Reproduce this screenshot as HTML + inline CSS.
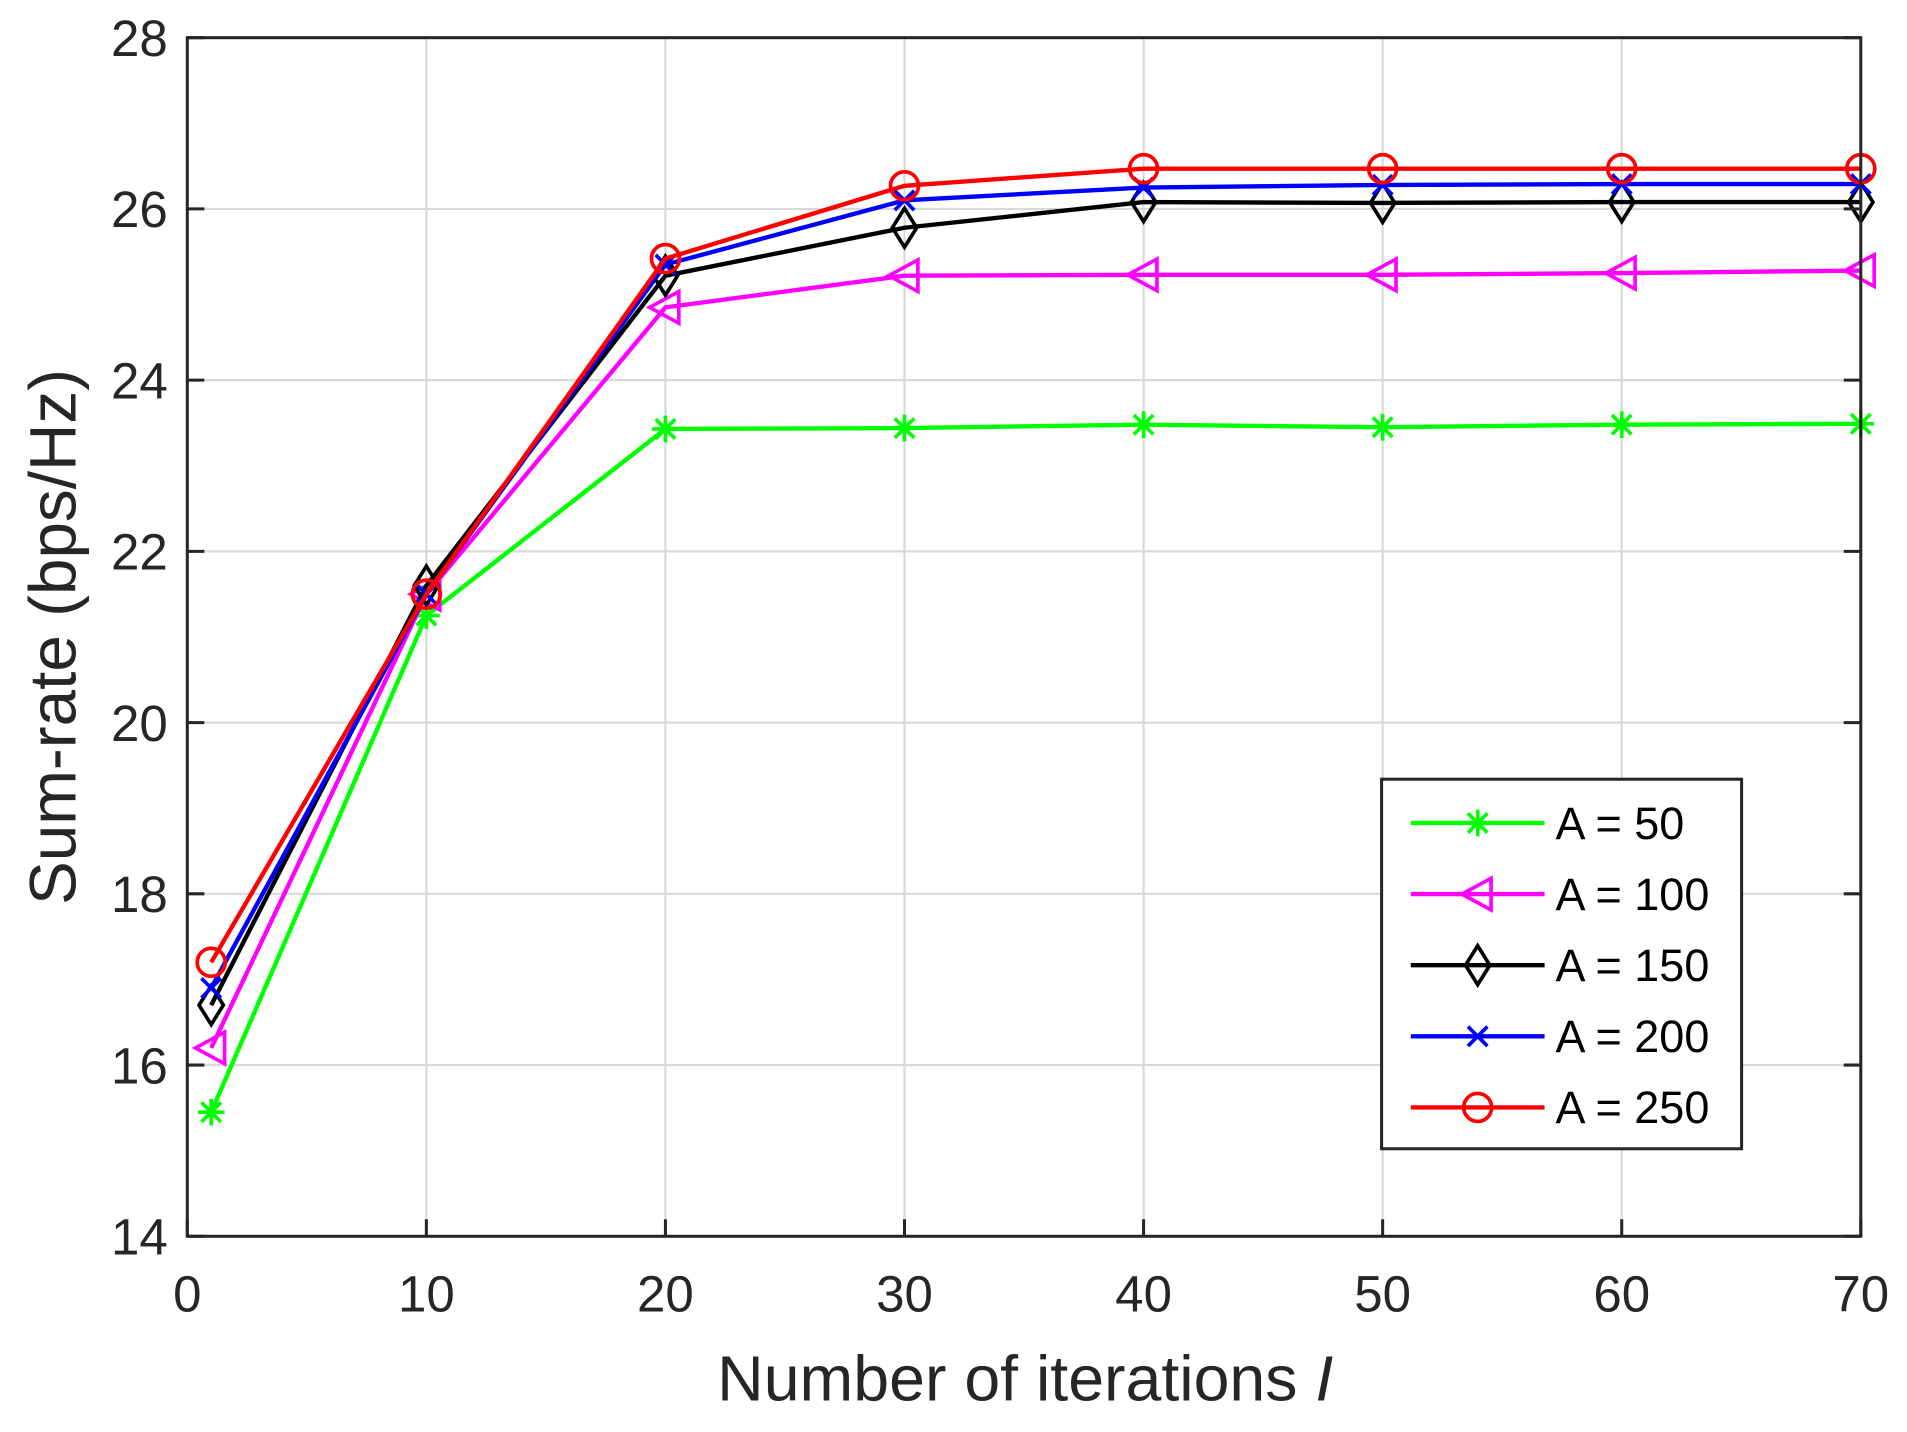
<!DOCTYPE html>
<html><head><meta charset="utf-8"><style>
html,body{margin:0;padding:0;background:#fff;}
svg{display:block;font-family:"Liberation Sans",Arial,sans-serif;}
</style></head><body>
<svg id="chart" width="1907" height="1432" viewBox="0 0 1568 1178" preserveAspectRatio="none" xmlns="http://www.w3.org/2000/svg">
<rect x="0" y="0" width="1568" height="1178" fill="#fff"/>
<g id="grid"></g>
<g id="series"></g>
<rect x="154" y="31" width="1376" height="986" fill="none" stroke="#262626" stroke-width="2.5"/>
<g id="ticks"></g>
<text x="843" y="1152" font-size="53" text-anchor="middle" fill="#262626">Number of iterations <tspan font-style="italic">I</tspan></text>
<text transform="translate(62,524) rotate(-90)" font-size="54" text-anchor="middle" fill="#262626">Sum-rate (bps/Hz)</text>
<g id="legend"></g>
</svg>
<script>
const xValues = [1, 10, 20, 30, 40, 50, 60, 70];
const seriesA50 = [15.45, 21.25, 23.43, 23.44, 23.48, 23.45, 23.48, 23.49];
const seriesA100 = [16.2, 21.5, 24.85, 25.22, 25.23, 25.23, 25.25, 25.28];
const seriesA150 = [16.7, 21.6, 25.22, 25.78, 26.08, 26.07, 26.08, 26.08];
const seriesA200 = [16.9, 21.5, 25.35, 26.1, 26.25, 26.28, 26.29, 26.29];
const seriesA250 = [17.2, 21.5, 25.42, 26.27, 26.47, 26.47, 26.47, 26.47];
const seriesLabels = ["A = 50", "A = 100", "A = 150", "A = 200", "A = 250"];
const xTicks = [0, 10, 20, 30, 40, 50, 60, 70];
const yTicks = [14, 16, 18, 20, 22, 24, 26, 28];

const NS = "http://www.w3.org/2000/svg";
const L = 154, R = 1530, T = 31, B = 1017;
const xMin = 0, xMax = 70, yMin = 14, yMax = 28;
function sx(v){ return L + (v - xMin) / (xMax - xMin) * (R - L); }
function sy(v){ return B - (v - yMin) / (yMax - yMin) * (B - T); }
function mk(tag, attrs, parent){ const e = document.createElementNS(NS, tag); for (const k in attrs) e.setAttribute(k, attrs[k]); parent.appendChild(e); return e; }

const grid = document.getElementById('grid');
const ticks = document.getElementById('ticks');
xTicks.forEach(t => {
  const x = sx(t);
  if (t !== xMin && t !== xMax) {
    const g = mk('line', {x1:x, x2:x, y1:T, y2:B, stroke:'#d9d9d9', 'stroke-width':1.8}, grid);
    
    
  }
  const tk = mk('line', {x1:x, x2:x, y1:B, y2:B-14, stroke:'#262626', 'stroke-width':2.5}, ticks);
  
  
  const lb = mk('text', {x:x, y:B+62, 'font-size':42, 'text-anchor':'middle', fill:'#262626'}, ticks);
  lb.textContent = t;
  
  
});
yTicks.forEach(t => {
  const y = sy(t);
  if (t !== yMin && t !== yMax) {
    const g = mk('line', {x1:L, x2:R, y1:y, y2:y, stroke:'#d9d9d9', 'stroke-width':1.8}, grid);
    
    
  }
  const tk = mk('line', {x1:L, x2:L+14, y1:y, y2:y, stroke:'#262626', 'stroke-width':2.5}, ticks);
  
  
  const tk2 = mk('line', {x1:R, x2:R-14, y1:y, y2:y, stroke:'#262626', 'stroke-width':2.5}, ticks);
  
  
  const lb = mk('text', {x:L-16, y:y+15, 'font-size':42, 'text-anchor':'end', fill:'#262626'}, ticks);
  lb.textContent = t;
  
  
});

function drawMarker(type, cx, cy, color, parent){
  const g = mk('g', {fill:'none', stroke:color, 'stroke-width':3}, parent);
  if (type === 'star') {
    const r = 11;
    mk('line', {x1:cx-r, x2:cx+r, y1:cy, y2:cy}, g);
    mk('line', {x1:cx, x2:cx, y1:cy-r, y2:cy+r}, g);
    mk('line', {x1:cx-8, x2:cx+8, y1:cy-8, y2:cy+8}, g);
    mk('line', {x1:cx-8, x2:cx+8, y1:cy+8, y2:cy-8}, g);
  } else if (type === 'tri') {
    mk('polygon', {points:`${cx-13},${cy} ${cx+11},${cy-13} ${cx+11},${cy+13}`}, g);
  } else if (type === 'diamond') {
    mk('polygon', {points:`${cx},${cy-16} ${cx+10},${cy} ${cx},${cy+16} ${cx-10},${cy}`}, g);
  } else if (type === 'x') {
    mk('line', {x1:cx-8, x2:cx+8, y1:cy-8, y2:cy+8}, g);
    mk('line', {x1:cx-8, x2:cx+8, y1:cy+8, y2:cy-8}, g);
  } else if (type === 'circle') {
    mk('circle', {cx:cx, cy:cy, r:11.5}, g);
  }
  return g;
}

const allSeries = [seriesA50, seriesA100, seriesA150, seriesA200, seriesA250];
const colors = ['#00ff00', '#ff00ff', '#000000', '#0000ff', '#ff0000'];
const markers = ['star', 'tri', 'diamond', 'x', 'circle'];
const sg = document.getElementById('series');
allSeries.forEach((vals, i) => {
  const pts = vals.map((v, j) => sx(xValues[j]) + ',' + sy(v)).join(' ');
  const pl = mk('polyline', {points:pts, fill:'none', stroke:colors[i], 'stroke-width':3.6, 'stroke-linejoin':'round'}, sg);
  
  
  vals.forEach((v, j) => {
    const m = drawMarker(markers[i], sx(xValues[j]), sy(v), colors[i], sg);
    
    
  });
});

const lg = document.getElementById('legend');
const box = mk('rect', {x:1136, y:641, width:296, height:304, fill:'#fff', stroke:'#262626', 'stroke-width':2.5}, lg);


seriesLabels.forEach((lab, i) => {
  const y = 677 + i * 58.5;
  const e = mk('g', {}, lg);
  
  
  mk('line', {x1:1160, x2:1270, y1:y, y2:y, stroke:colors[i], 'stroke-width':3.6}, e);
  drawMarker(markers[i], 1215, y, colors[i], e);
  const t = mk('text', {x:1279, y:y+13, 'font-size':37, fill:'#000'}, e);
  t.textContent = lab;
});
</script>
</body></html>
